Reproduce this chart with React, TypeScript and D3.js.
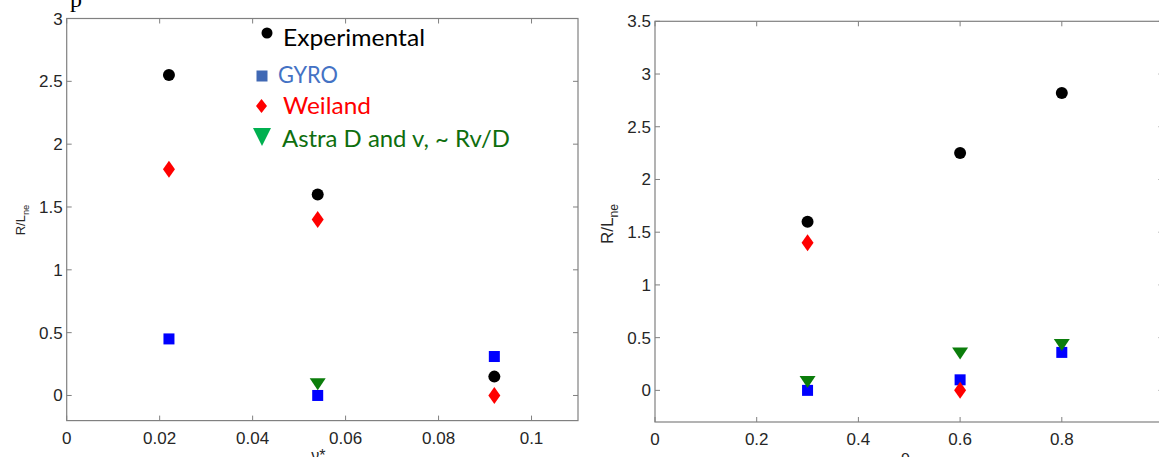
import React from 'react';
import * as d3 from 'd3';

// left panel: R/L_ne vs collisionality
const nuStar = [0.022, 0.054, 0.092];
const nuExperimental = [2.55, 1.6, 0.15];
const nuGyro = [0.45, 0.0, 0.31];
const nuWeiland = [1.8, 1.4, 0.0];
const nuAstraX = [0.054];
const nuAstra = [0.09];
const nuTicks = [0, 0.02, 0.04, 0.06, 0.08, 0.1];
const nuTickLabels = ['0', '0.02', '0.04', '0.06', '0.08', '0.1'];
const leftYTicks = [0, 0.5, 1, 1.5, 2, 2.5, 3];
const leftYTickLabels = ['0', '0.5', '1', '1.5', '2', '2.5', '3'];

// right panel: R/L_ne vs rho
const rho = [0.3, 0.6, 0.8];
const rhoExperimental = [1.6, 2.25, 2.82];
const rhoGyro = [0.0, 0.1, 0.36];
const rhoWeilandX = [0.3, 0.6];
const rhoWeiland = [1.4, 0.0];
const rhoAstra = [0.08, 0.35, 0.43];
const rhoTicks = [0, 0.2, 0.4, 0.6, 0.8, 1];
const rhoTickLabels = ['0', '0.2', '0.4', '0.6', '0.8', '']; // the "1" falls outside the crop
const rightYTicks = [0, 0.5, 1, 1.5, 2, 2.5, 3, 3.5];
const rightYTickLabels = ['0', '0.5', '1', '1.5', '2', '2.5', '3', '3.5'];

const legendLabels = ['Experimental', 'GYRO', 'Weiland', 'Astra D and v, ~ Rv/D'];

const AXIS = '#808080';
const TICK_FONT = "'Liberation Sans', Arial, sans-serif";

type Series = { xs: number[]; ys: number[]; kind: string };

const Marker = ({ kind, x, y, legend = false }: { kind: string; x: number; y: number; legend?: boolean }) => {
  if (kind === 'dot') return <circle cx={x} cy={y} r={legend ? 5.5 : 6} fill="#000" />;
  if (kind === 'square') return <rect x={x - 5.5} y={y - 5.5} width={11} height={11} fill={legend ? '#4068b4' : '#0000ff'} />;
  if (kind === 'diamond') {
    const w = legend ? 5.5 : 6;
    const h = legend ? 7 : 8.5;
    return <path d={`M${x},${y - h}L${x + w},${y}L${x},${y + h}L${x - w},${y}Z`} fill="#ff0000" />;
  }
  // down triangle
  const tw = legend ? 9 : 8;
  const th = legend ? 9 : 6;
  return <path d={`M${x - tw},${y - th}L${x + tw},${y - th}L${x},${y + th}Z`} fill={legend ? '#00b050' : '#0b7d0b'} />;
};

type PanelProps = {
  x0: number; x1: number; y0: number; y1: number;
  xDomain: [number, number]; yDomain: [number, number];
  xTicks: number[]; xTickLabels: string[];
  yTicks: number[]; yTickLabels: string[];
  series: Series[];
  xLabel: string;
  yLabelX: number; yLabelY: number; yLabelSize: number;
};

const Panel = (p: PanelProps) => {
  const x = d3.scaleLinear().domain(p.xDomain).range([p.x0, p.x1]);
  const y = d3.scaleLinear().domain(p.yDomain).range([p.y1, p.y0]);
  const tl = 5;
  return (
    <g>
      <rect x={p.x0} y={p.y0} width={p.x1 - p.x0} height={p.y1 - p.y0} fill="none" stroke={AXIS} strokeWidth={1.2} />
      {p.xTicks.map((t, i) => (
        <g key={'xt' + i}>
          <line x1={x(t)} x2={x(t)} y1={p.y1} y2={p.y1 - tl} stroke={AXIS} />
          <line x1={x(t)} x2={x(t)} y1={p.y0} y2={p.y0 + tl} stroke={AXIS} />
          {p.xTickLabels[i] && (
            <text x={x(t)} y={p.y1 + 23} textAnchor="middle" fontSize={17} fill="#262626" fontFamily={TICK_FONT}>
              {p.xTickLabels[i]}
            </text>
          )}
        </g>
      ))}
      {p.yTicks.map((t, i) => (
        <g key={'yt' + i}>
          <line x1={p.x0} x2={p.x0 + tl} y1={y(t)} y2={y(t)} stroke={AXIS} />
          <line x1={p.x1} x2={p.x1 - tl} y1={y(t)} y2={y(t)} stroke={AXIS} />
          <text x={p.x0 - 4} y={y(t) + 6} textAnchor="end" fontSize={17} fill="#262626" fontFamily={TICK_FONT}>
            {p.yTickLabels[i]}
          </text>
        </g>
      ))}
      {p.series.map((s, si) =>
        s.xs.map((xv, i) => <Marker key={si + '-' + i} kind={s.kind} x={x(xv)} y={y(s.ys[i])} />)
      )}
      <text x={(p.x0 + p.x1) / 2 - 4} y={p.y1 + 40} textAnchor="middle" fontSize={16} fill="#262626" fontFamily={TICK_FONT}>
        {p.xLabel}
      </text>
      <text
        transform={`translate(${p.yLabelX},${p.yLabelY}) rotate(-90)`}
        textAnchor="middle"
        fontSize={p.yLabelSize}
        fill="#262626"
        fontFamily={TICK_FONT}
      >
        R/L
        <tspan fontSize={p.yLabelSize * 0.72} dy={p.yLabelSize * 0.3}>ne</tspan>
      </text>
    </g>
  );
};

const App = () => {
  const legendColors = ['#000000', '#4472c4', '#ff0000', '#0e6e0e'];
  const legendKinds = ['dot', 'square', 'diamond', 'triangle'];
  const legendRows = [
    { mx: 267, my: 33, tx: 283, ty: 46, w: 142 },
    { mx: 262, my: 76, tx: 278, ty: 83, w: 60 },
    { mx: 261.5, my: 106, tx: 283, ty: 114, w: 88 },
    { mx: 262, my: 137, tx: 282, ty: 147, w: 228 },
  ];
  return (
    <svg width={1159} height={457} style={{ position: 'absolute', left: 0, top: 0, background: '#fff' }}>
      <rect width={1159} height={457} fill="#fff" />
      <text x={70} y={7} fontSize={24} fontFamily="'Liberation Serif', serif" fill="#000">p</text>
      <Panel
        x0={66.7} x1={578} y0={18.5} y1={420.6}
        xDomain={[0, 0.11]} yDomain={[-0.2, 3]}
        xTicks={nuTicks} xTickLabels={nuTickLabels}
        yTicks={leftYTicks} yTickLabels={leftYTickLabels}
        series={[
          { xs: nuStar, ys: nuExperimental, kind: 'dot' },
          { xs: nuStar, ys: nuGyro, kind: 'square' },
          { xs: nuStar, ys: nuWeiland, kind: 'diamond' },
          { xs: nuAstraX, ys: nuAstra, kind: 'triangle' },
        ]}
        xLabel="ν*"
        yLabelX={25} yLabelY={220} yLabelSize={13}
      />
      <Panel
        x0={655} x1={1163.5} y0={21.3} y1={422}
        xDomain={[0, 1]} yDomain={[-0.3, 3.5]}
        xTicks={rhoTicks} xTickLabels={rhoTickLabels}
        yTicks={rightYTicks} yTickLabels={rightYTickLabels}
        series={[
          { xs: rho, ys: rhoExperimental, kind: 'dot' },
          { xs: rho, ys: rhoGyro, kind: 'square' },
          { xs: rhoWeilandX, ys: rhoWeiland, kind: 'diamond' },
          { xs: rho, ys: rhoAstra, kind: 'triangle' },
        ]}
        xLabel="ρ"
        yLabelX={613} yLabelY={224} yLabelSize={17}
      />
      {legendLabels.map((lab, i) => {
        const r = legendRows[i];
        return (
          <g key={lab}>
            <Marker kind={legendKinds[i]} x={r.mx} y={r.my} legend />
            <text
              x={r.tx}
              y={r.ty}
              fontSize={23}
              fill={legendColors[i]}
              fontFamily="Lato, 'Open Sans', sans-serif"
              textLength={r.w}
              lengthAdjust="spacingAndGlyphs"
            >
              {lab}
            </text>
          </g>
        );
      })}
    </svg>
  );
};

export default App;
